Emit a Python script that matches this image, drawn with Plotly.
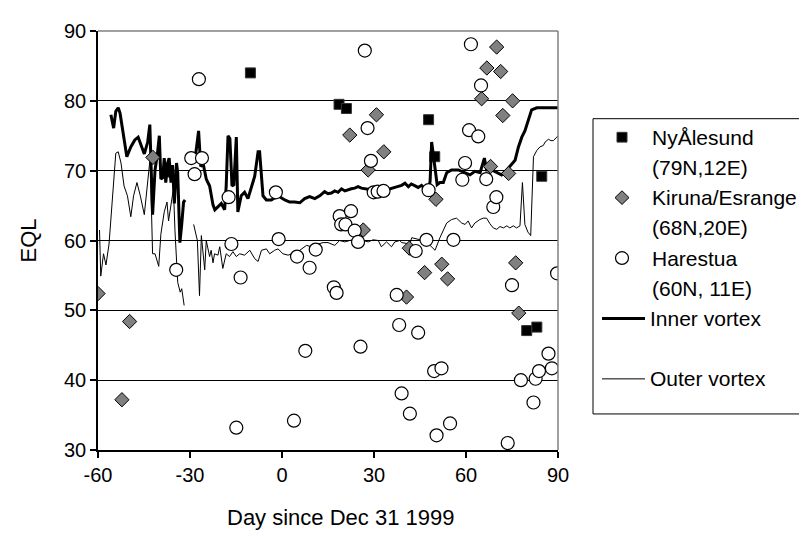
import plotly.graph_objects as go

# ---------------- data ----------------
ny_day = [-37.3, -10.3, 18.6, 21.0, 47.8, 49.8, 79.8, 83.1, 84.7]
ny_eql = [69.8, 84.0, 79.5, 78.9, 77.3, 72.0, 47.1, 47.6, 69.2]

ki_day = [-60.0, -52.2, -49.7, -42.1, 22.1, 26.5, 28.1, 30.8, 33.2, 40.6, 41.5,
          46.5, 50.2, 52.1, 54.0, 65.1, 66.8, 68.0, 70.0, 71.3, 72.0, 73.9, 75.2,
          76.2, 77.2]
ki_eql = [52.4, 37.2, 48.4, 71.9, 75.1, 61.5, 70.1, 78.0, 72.7, 51.9, 58.9,
          55.4, 65.9, 56.6, 54.5, 80.3, 84.7, 70.6, 87.7, 84.2, 77.9, 69.6, 80.0,
          56.8, 49.6]

ha_day = [-34.5, -29.6, -28.5, -27.1, -26.1, -17.4, -16.5, -14.9, -13.5, -2.0,
          -1.1, 3.9, 4.9, 7.6, 9.0, 11.0, 16.9, 17.8, 18.8, 19.3, 20.7, 22.5,
          23.7, 24.8, 25.6, 27.0, 27.9, 29.0, 29.9, 31.2, 33.1, 37.4, 38.2, 39.0,
          41.7, 43.6, 44.4, 47.1, 47.8, 49.6, 50.4, 52.0, 54.8, 55.9, 58.8, 59.7,
          61.0, 61.6, 64.0, 64.9, 66.6, 68.9, 69.9, 73.6, 75.0, 77.9, 82.0, 82.7,
          83.8, 86.9, 88.0, 89.7]
ha_eql = [55.8, 71.8, 69.5, 83.1, 71.8, 66.2, 59.5, 33.2, 54.7, 66.9,
          60.2, 34.2, 57.7, 44.2, 56.1, 58.7, 53.3, 52.5, 63.5, 62.3, 62.3, 64.2,
          61.4, 59.8, 44.8, 87.2, 76.1, 71.4, 66.9, 67.0, 67.1, 52.2, 47.9, 38.1,
          35.2, 58.5, 46.8, 60.1, 67.2, 41.3, 32.1, 41.7, 33.8, 60.1, 68.7, 71.1,
          75.8, 88.1, 74.9, 82.2, 68.8, 64.8, 66.2, 31.0, 53.6, 40.0, 36.8, 40.2,
          41.3, 43.8, 41.7, 55.3]

inner_day = [-55.8, -54.9, -54.2, -53.4, -52.8, -51.7, -50.6, -49.3, -48.0, -46.9,
             -46.0, -44.9, -43.8, -43.1, -42.2, -41.4, -40.6, -40.0, -39.5, -38.9,
             -38.4, -37.9, -37.3, -36.8, -36.2, -35.7, -35.1, -34.4, -34.0, -33.3,
             -32.7, -32.1, -31.6, -30.0,
             -28.5, -27.2, -26.5, -25.7, -24.7, -23.6, -22.5, -21.9, -20.5, -19.8,
             -18.7, -18.2, -17.6, -17.0, -16.3, -15.7, -14.9, -14.4, -13.3, -12.2,
             -11.1, -10.0, -8.9, -7.8, -7.3, -6.2, -5.1, -3.5, -1.3, 0.9,
             2.5, 4.1, 5.8, 7.4, 9.0, 10.7, 12.3, 13.9, 15.0, 16.1,
             17.2, 18.3, 19.4, 20.5, 21.6, 22.6, 23.7, 24.8, 25.9, 27.0,
             28.5, 30.3, 32.4, 34.6, 36.8, 39.0, 40.1, 41.2, 42.2, 43.3,
             44.4, 45.5, 46.6, 47.7, 48.3, 48.8, 49.4, 50.0, 50.6, 51.5,
             52.6, 53.7, 55.3, 57.5, 59.7, 61.3, 62.9, 64.6, 66.0, 66.7,
             68.4, 70.0, 71.6, 73.3, 74.7, 76.0, 77.1, 78.2, 79.2, 80.3,
             81.4, 83.1, 90.0]
inner_eql = [78.0, 76.1, 78.5, 79.0, 78.2, 75.2, 72.0, 73.4, 74.4, 74.8,
             73.8, 72.4, 74.1, 76.6, 63.7, 70.1, 72.5, 75.0, 68.8, 69.0,
             71.8, 68.3, 71.1, 71.8, 68.3, 70.8, 65.3, 71.1, 69.7, 59.7,
             62.3, 65.5, 65.8, None,
             71.1, 75.7, 70.6, 71.0, 68.8, 67.8, 65.1, 64.4, 65.0, 65.3,
             64.4, 67.8, 75.0, 74.6, 67.8, 68.0, 74.8, 64.1, 66.4, 66.9,
             66.0, 67.8, 69.2, 72.7, 72.7, 66.4, 65.8, 65.8, 66.4, 65.8,
             65.5, 65.5, 65.4, 66.0, 66.3, 66.0, 66.4, 67.0, 66.7, 66.8,
             67.1, 66.9, 67.4, 67.1, 67.3, 67.4, 67.5, 67.7, 67.5, 67.4,
             67.3, 67.4, 67.4, 67.3, 67.6, 67.9, 68.2, 67.7, 68.1, 67.8,
             67.6, 67.9, 67.4, 67.1, 68.5, 74.1, 72.0, 70.5, 68.0, 68.3,
             68.3, 69.7, 70.1, 70.1, 69.7, 69.4, 69.9, 69.7, 71.8, 70.1,
             70.1, 69.7, 69.4, 70.1, 70.8, 71.5, 73.4, 74.8, 75.7, 77.1,
             78.7, 79.0, 79.0]

outer_day = [-59.5, -59.1, -58.2, -57.4, -56.4, -55.3, -54.2, -53.4, -52.5, -51.5,
             -50.4, -49.3, -48.4, -47.3, -46.2, -44.9, -43.8, -43.0, -42.2, -41.4,
             -40.2, -39.5, -38.4, -37.5, -37.0, -36.2, -35.4, -34.9, -34.4, -34.0,
             -33.2, -32.7, -31.9, -30.5,
             -28.8, -27.6, -26.9, -26.3, -25.2, -24.7, -23.6, -23.1, -22.5, -22.0,
             -20.9, -20.3, -19.3, -18.2, -17.1, -16.0, -14.9, -13.8, -12.2, -10.5,
             -8.9, -7.8, -6.7, -5.1, -4.0, -2.4, -1.3, 0.3, 2.0, 3.1,
             5.2, 8.0, 9.6, 11.8, 13.4, 15.0, 17.2, 18.8, 20.5, 22.1,
             23.7, 25.4, 26.5, 28.1, 29.7, 31.4, 32.4, 34.1, 35.7, 36.8,
             38.4, 39.0, 41.7, 42.3, 46.0, 47.6, 49.9, 51.5, 52.6, 53.7,
             55.3, 56.9, 58.6, 59.7, 60.7, 61.8, 62.9, 64.5, 65.6, 66.7,
             67.8, 68.9, 70.0, 71.1, 72.2, 73.3, 74.3, 75.4, 76.5, 77.6,
             78.4, 79.2, 80.2, 81.1, 82.0, 83.1, 84.1, 85.2, 85.8, 86.9,
             87.7, 88.5, 89.6, 90.0]
outer_eql = [61.5, 54.9, 58.1, 56.5, 59.5, 66.4, 72.5, 72.7, 71.1, 67.8,
             66.4, 63.4, 66.4, 68.3, 66.4, 63.7, 68.3, 71.8, 58.1, 58.1,
             56.3, 60.9, 64.1, 65.5, 62.8, 65.5, 67.4, 61.4, 56.7, 54.0,
             52.6, 53.1, 50.7, None,
             62.3, 60.0, 52.1, 60.7, 55.8, 60.0, 57.7, 58.6, 56.8, 58.1,
             57.9, 59.1, 56.0, 58.1, 57.7, 58.4, 57.7, 58.1, 57.9, 58.6,
             57.4, 57.0, 58.6, 58.8, 58.1, 58.6, 58.8, 58.1, 57.9, 58.1,
             58.4, 59.3, 59.1, 59.5, 59.7, 59.7, 59.3, 60.0, 59.8, 60.0,
             60.2, 59.8, 60.0, 59.8, 60.1, 60.0, 59.1, 59.8, 59.1, 59.8,
             60.0, 59.7, 59.5, 60.4, 60.0, 59.6, 58.6, 60.4, 61.4, 62.5,
             63.0, 63.2, 62.5, 62.3, 62.8, 61.8, 62.5, 63.0, 63.2, 63.2,
             62.4, 61.8, 61.6, 62.0, 61.8, 62.1, 61.8, 62.1, 61.8, 62.1,
             68.3, 62.3, 61.2, 60.7, 72.0, 72.9, 73.4, 73.6, 74.1, 74.5,
             74.3, 74.3, 74.8, 75.0]

x_ticks = [-60, -30, 0, 30, 60, 90]
y_ticks = [30, 40, 50, 60, 70, 80, 90]

legend_names = ["NyÅlesund", "(79N,12E)", "Kiruna/Esrange", "(68N,20E)",
                "Harestua", "(60N, 11E)", "Inner vortex", "Outer vortex"]

# ---------------- figure ----------------
OFF = 8                      # page body margin
W, H = 807 - OFF, 537 - OFF
L, R, T, B = 90, 249, 12, 87
PW, PH = W - L - R, H - T - B
FONT = "Liberation Sans, Arial, sans-serif"


def px(sx):
    return (sx - OFF - L) / PW


def py(sy):
    return (H - B - (sy - OFF)) / PH


fig = go.Figure()

fig.add_trace(go.Scatter(x=ny_day, y=ny_eql, mode="markers", name="NyÅlesund (79N,12E)",
                         marker=dict(symbol="square", size=10, color="black",
                                     line=dict(color="#333333", width=1))))
fig.add_trace(go.Scatter(x=outer_day, y=outer_eql, mode="lines", name="Outer vortex",
                         line=dict(color="black", width=1), connectgaps=False))
fig.add_trace(go.Scatter(x=inner_day, y=inner_eql, mode="lines", name="Inner vortex",
                         line=dict(color="black", width=3), connectgaps=False))
fig.add_trace(go.Scatter(x=ki_day, y=ki_eql, mode="markers", name="Kiruna/Esrange (68N,20E)",
                         marker=dict(symbol="diamond", size=11, color="#808080",
                                     line=dict(color="black", width=1))))
fig.add_trace(go.Scatter(x=ha_day, y=ha_eql, mode="markers", name="Harestua (60N, 11E)",
                         marker=dict(symbol="circle", size=13, color="white",
                                     line=dict(color="black", width=1.2))))

shapes = []
# plot box top and right (gray)
shapes.append(dict(type="line", xref="paper", yref="paper", x0=0, x1=1, y0=1, y1=1,
                   line=dict(color="#808080", width=1.5)))
shapes.append(dict(type="line", xref="paper", yref="paper", x0=1, x1=1, y0=0, y1=1,
                   line=dict(color="#808080", width=1.5)))

# legend box
bx0, bx1, by0, by1 = 593, 800, 110, 413
shapes.append(dict(type="rect", xref="paper", yref="paper", x0=px(bx0), x1=px(bx1),
                   y0=py(by1), y1=py(by0), line=dict(color="black", width=1),
                   fillcolor="white", layer="below"))

line_y = [129, 160, 191, 222, 253, 284, 315, 377]
mx = 622
# square marker
s = 5
shapes.append(dict(type="rect", xref="paper", yref="paper", x0=px(mx - s), x1=px(mx + s),
                   y0=py(line_y[0] + s), y1=py(line_y[0] - s),
                   fillcolor="black", line=dict(color="#333333", width=1)))
# diamond marker
d = 7
dy = line_y[2]
shapes.append(dict(type="path", xref="paper", yref="paper",
                   path=(f"M {px(mx - d)},{py(dy)} L {px(mx)},{py(dy - d)} "
                         f"L {px(mx + d)},{py(dy)} L {px(mx)},{py(dy + d)} Z"),
                   fillcolor="#808080", line=dict(color="black", width=1)))
# circle marker
c = 6.5
cy = line_y[4]
shapes.append(dict(type="circle", xref="paper", yref="paper", x0=px(mx - c), x1=px(mx + c),
                   y0=py(cy + c), y1=py(cy - c), fillcolor="white",
                   line=dict(color="black", width=1.2)))
# line samples
shapes.append(dict(type="line", xref="paper", yref="paper", x0=px(602), x1=px(645),
                   y0=py(line_y[6]), y1=py(line_y[6]), line=dict(color="black", width=3)))
shapes.append(dict(type="line", xref="paper", yref="paper", x0=px(602), x1=px(645),
                   y0=py(line_y[7]), y1=py(line_y[7]), line=dict(color="black", width=1)))

annotations = []
for i, t in enumerate(legend_names):
    tx = 650 if i < 6 else 648
    annotations.append(dict(text=t, xref="paper", yref="paper", x=px(tx), y=py(line_y[i]),
                            xanchor="left", yanchor="middle", showarrow=False,
                            font=dict(family=FONT, size=21, color="black")))

annotations.append(dict(text="EQL", xref="paper", yref="paper", x=px(28), y=py(235),
                        xanchor="center", yanchor="middle", textangle=-90, showarrow=False,
                        font=dict(family=FONT, size=22, color="black")))
annotations.append(dict(text="Day since Dec 31 1999", xref="paper", yref="paper",
                        x=px(340), y=py(519), xanchor="center", yanchor="middle",
                        showarrow=False, font=dict(family=FONT, size=22, color="black")))

fig.update_layout(
    width=W, height=H,
    margin=dict(l=L, r=R, t=T, b=B, pad=0),
    paper_bgcolor="white", plot_bgcolor="white",
    showlegend=False,
    shapes=shapes, annotations=annotations,
    font=dict(family=FONT, size=20, color="black"),
    xaxis=dict(range=[-60, 90], tickvals=x_ticks, ticktext=[str(v) for v in x_ticks],
               showgrid=False, zeroline=False, showline=True, linecolor="black",
               linewidth=1.5, ticks="outside", ticklen=6, tickcolor="black",
               tickwidth=1.5, tickfont=dict(size=20, family=FONT, color="black")),
    yaxis=dict(range=[30, 90], tickvals=y_ticks, ticktext=[str(v) for v in y_ticks],
               showgrid=True, gridcolor="black", gridwidth=1, zeroline=False,
               showline=True, linecolor="black", linewidth=1.5, ticks="outside",
               ticklen=6, tickcolor="black", tickwidth=1.5,
               tickfont=dict(size=20, family=FONT, color="black")),
)

fig.write_html("out.html")
